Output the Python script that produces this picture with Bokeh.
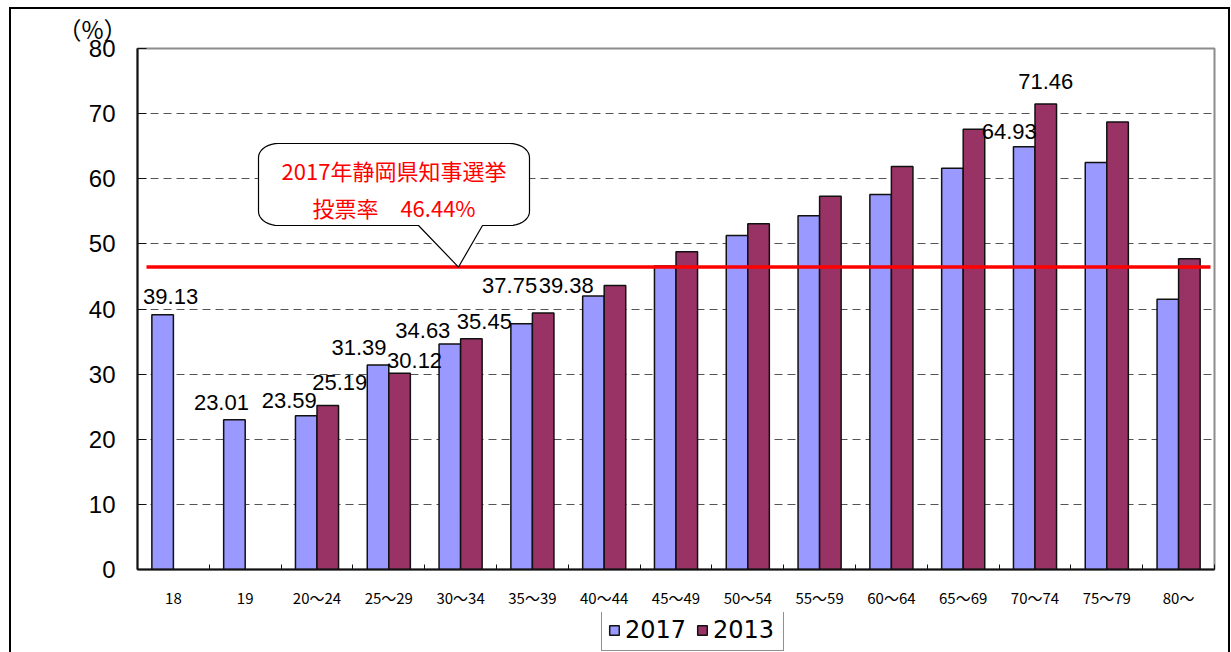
import numpy as np
from bokeh.plotting import figure
from bokeh.layouts import column
from bokeh.models import ColumnDataSource, Range1d, FixedTicker, Legend, LegendItem, Title
from bokeh.transform import dodge
from bokeh.core.properties import value
from bokeh.embed import file_html
from bokeh.resources import INLINE

# ---------------- data ----------------
categories = ["18", "19", "20～24", "25～29", "30～34", "35～39", "40～44", "45～49",
              "50～54", "55～59", "60～64", "65～69", "70～74", "75～79", "80～"]
turnout_2017 = [39.13, 23.01, 23.59, 31.39, 34.63, 37.75, 42.0, 46.6,
                51.3, 54.3, 57.6, 61.6, 64.93, 62.5, 41.5]
turnout_2013 = [None, None, 25.19, 30.12, 35.45, 39.38, 43.6, 48.8,
                53.1, 57.3, 61.9, 67.6, 71.46, 68.7, 47.7]
overall_turnout = 46.44
series_names = ["2017", "2013"]
y_ticks = [0, 10, 20, 30, 40, 50, 60, 70, 80]
labelled_2017 = ["18", "19", "20～24", "25～29", "30～34", "35～39", "70～74"]
labelled_2013 = ["20～24", "25～29", "30～34", "35～39", "70～74"]
callout_lines = ["2017年静岡県知事選挙", "投票率　46.44%"]
unit_label = "（%）"

# ---------------- styles ----------------
C2017 = "#9999FF"
C2013 = "#993366"
FONT_NUM = "Liberation Sans"
FONT_JP = "Noto Sans CJK JP"
W = 1231
FRAME_L = 137
FRAME_W, FRAME_H = 1077, 521
BAR_W = 0.3
LABEL_LIFT = 8   # px correction of the text baseline
# label offsets (px): horizontal shift from bar centre, gap above the bar top
lab_style_2017 = {"18": (8, 10), "19": (-13, 9), "20～24": (-17, 7), "25～29": (-19, 10),
                  "30～34": (-27, 5), "35～39": (-12, 30), "70～74": (-15, 7)}
lab_style_2013 = {"20～24": (12, 15), "25～29": (15, 5), "30～34": (13, 9),
                  "35～39": (23, 20), "70～74": (0, 15)}

n = len(categories)
xpos = list(range(n))
x_lo, x_hi = -0.5, n - 0.5
y_lo, y_hi = y_ticks[0], y_ticks[-1]
kx = FRAME_W / (x_hi - x_lo)
ky = FRAME_H / (y_hi - y_lo)

def fx(px):  # frame px from left -> data x
    return x_lo + px / kx

def fy(py):  # frame px from top -> data y
    return y_hi - py / ky

p = figure(width=W, height=612, output_backend="svg", toolbar_location=None,
           x_range=Range1d(x_lo, x_hi), y_range=Range1d(y_lo, y_hi),
           min_border_left=FRAME_L, min_border_right=17, min_border_top=48, min_border_bottom=43)
p.border_fill_color = None
p.background_fill_color = "white"
p.outline_line_color = "#8c8c8c"
p.outline_line_width = 2

src17 = ColumnDataSource(dict(x=xpos, top=turnout_2017))
i13 = [i for i, v in enumerate(turnout_2013) if v is not None]
src13 = ColumnDataSource(dict(x=[xpos[i] for i in i13], top=[turnout_2013[i] for i in i13]))

bar_style = dict(line_color="#111111", line_width=1.5)
p.vbar(x=dodge("x", -BAR_W / 2), top="top", width=BAR_W, source=src17, fill_color=C2017, **bar_style)
p.vbar(x=dodge("x", BAR_W / 2), top="top", width=BAR_W, source=src13, fill_color=C2013, **bar_style)

# average turnout line
p.segment(x0=[fx(9)], x1=[fx(1073)], y0=[overall_turnout], y1=[overall_turnout],
          line_color="#FF0000", line_width=3.5)

# value labels (positions derived from the bar values plus pixel offsets)
def label_src(names, vals, style, sign):
    xs, ys, txt = [], [], []
    for c in names:
        i = categories.index(c)
        v = vals[i]
        dx, gap = style[c]
        xs.append(xpos[i] + sign * BAR_W / 2 + dx / kx)
        ys.append(v + (gap + LABEL_LIFT) / ky)
        txt.append(f"{v:.2f}")
    return ColumnDataSource(dict(x=xs, y=ys, text=txt))

for s in (label_src(labelled_2017, turnout_2017, lab_style_2017, -1),
          label_src(labelled_2013, turnout_2013, lab_style_2013, 1)):
    p.text(x="x", y="y", text="text", source=s,
           text_font=value(FONT_NUM), text_font_size="22px", text_color="#000000",
           text_align="center", text_baseline="alphabetic")

# callout bubble (frame pixel geometry)
L, R, T, B = 121, 392, 95, 177
rx, ry = 20, 14
tip_px = 321
tip_py = (y_hi - overall_turnout) * ky
base_l, base_r = 281, 345

def arc(cx, cy, a0, a1, k=10):
    ang = np.linspace(a0, a1, k)
    return [(cx + rx * np.cos(a), cy - ry * np.sin(a)) for a in ang]

pts = []
pts += arc(R - rx, T + ry, np.pi / 2, 0)               # top-right
pts += arc(R - rx, B - ry, 0, -np.pi / 2)              # bottom-right
pts += [(base_r, B), (tip_px, tip_py), (base_l, B)]
pts += arc(L + rx, B - ry, -np.pi / 2, -np.pi)         # bottom-left
pts += arc(L + rx, T + ry, np.pi, np.pi / 2)           # top-left
p.patch(x=[fx(a) for a, b in pts], y=[fy(b) for a, b in pts],
        fill_color="white", line_color="#000000", line_width=1.2)

p.text(x=[fx(256.5), fx(256.5)], y=[fy(121), fy(158)], text=callout_lines,
       text_font=value(FONT_JP), text_font_size="22px", text_color="#FF0000",
       text_align="center", text_baseline="middle")

# axes
xa = p.xaxis[0]
xa.ticker = FixedTicker(ticks=xpos, minor_ticks=[v + 0.5 for v in [x_lo - 0.5] + xpos])
xa.major_label_overrides = {i: c for i, c in zip(xpos, categories)}
xa.major_tick_in = 0
xa.major_tick_out = 0
xa.minor_tick_in = 5
xa.minor_tick_out = 0
xa.minor_tick_line_color = "#111111"
xa.axis_line_color = "#111111"
xa.axis_line_width = 2
xa.major_label_standoff = 17
xa.major_label_text_font = FONT_JP
xa.major_label_text_font_size = "15px"
xa.major_label_text_color = "#000000"

ya = p.yaxis[0]
ya.ticker = FixedTicker(ticks=y_ticks)
ya.major_tick_in = 9
ya.major_tick_out = 0
ya.minor_tick_line_color = None
ya.major_tick_line_color = "#111111"
ya.axis_line_color = "#111111"
ya.axis_line_width = 2
ya.major_label_standoff = 22
ya.major_label_text_font = FONT_NUM
ya.major_label_text_font_size = "24px"
ya.major_label_text_color = "#000000"

p.xgrid.grid_line_color = None
p.ygrid.grid_line_color = "#555555"
p.ygrid.grid_line_dash = "8 5"
p.ygrid.grid_line_width = 1

p.add_layout(Title(text=unit_label, align="left", offset=-80, standoff=6,
                   text_font=FONT_JP, text_font_size="24px", text_font_style="normal",
                   text_color="#000000"), "above")

# legend strip (separate small figure below the chart; its frame aligns with the chart's)
pl = figure(width=W, height=40, output_backend="svg", toolbar_location=None,
            x_range=Range1d(x_lo, x_hi), y_range=Range1d(y_lo, y_hi),
            x_axis_type=None, y_axis_type=None, min_border=0)
pl.grid.visible = False
pl.outline_line_color = None
pl.border_fill_color = None
pl.background_fill_color = None
# hidden legend proxies sharing the bar data and styles
k17 = pl.vbar(x="x", top="top", width=BAR_W, source=src17, fill_color=C2017, visible=False, **bar_style)
k13 = pl.vbar(x="x", top="top", width=BAR_W, source=src13, fill_color=C2013, visible=False, **bar_style)
legend = Legend(items=[LegendItem(label=series_names[0], renderers=[k17]),
                       LegendItem(label=series_names[1], renderers=[k13])],
                location=(601 - FRAME_L, 1), orientation="horizontal",
                glyph_width=12, glyph_height=12, label_standoff=5, spacing=7,
                padding=6, margin=0, label_height=25, label_width=64,
                label_text_font="DejaVu Sans", label_text_font_size="24px",
                label_text_color="#000000",
                border_line_color="#222222", border_line_width=1.2,
                background_fill_color="white", background_fill_alpha=1)
pl.add_layout(legend, "center")

page = column(p, pl, spacing=0)
page.styles = {
    "background-image": "linear-gradient(#000,#000), linear-gradient(#000,#000), linear-gradient(#000,#000)",
    "background-size": "2px 645px, 1221px 2px, 2px 645px",
    "background-position": "9px 7px, 9px 7px, 1228px 7px",
    "background-repeat": "no-repeat",
}

open("out.html", "w").write(file_html(page, INLINE))
